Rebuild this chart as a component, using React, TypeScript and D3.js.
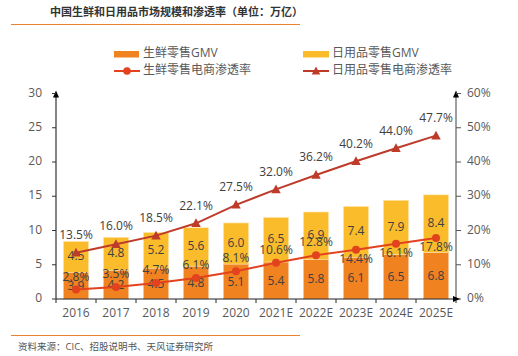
import React from "react";
import * as d3 from "d3";

const categories = ["2016", "2017", "2018", "2019", "2020", "2021E", "2022E", "2023E", "2024E", "2025E"];
const freshGMV = [3.9, 4.2, 4.5, 4.8, 5.1, 5.4, 5.8, 6.1, 6.5, 6.8];
const dailyGMV = [4.5, 4.8, 5.2, 5.6, 6.0, 6.5, 6.9, 7.4, 7.9, 8.4];
const freshRate = [2.8, 3.5, 4.7, 6.1, 8.1, 10.6, 12.8, 14.4, 16.1, 17.8];
const dailyRate = [13.5, 16.0, 18.5, 22.1, 27.5, 32.0, 36.2, 40.2, 44.0, 47.7];
const leftTicks = [0, 5, 10, 15, 20, 25, 30];
const rightTicks = [0, 10, 20, 30, 40, 50, 60];

const title = "中国生鲜和日用品市场规模和渗透率（单位：万亿）";
const source = "资料来源：CIC、招股说明书、天风证券研究所";
const legendFreshBar = "生鲜零售GMV";
const legendDailyBar = "日用品零售GMV";
const legendFreshLine = "生鲜零售电商渗透率";
const legendDailyLine = "日用品零售电商渗透率";

const FONT = "'Open Sans', 'Noto Sans CJK SC', sans-serif";
const C_FRESH = "#F0821F";
const C_DAILY = "#FBBC2C";
const C_FRESH_LINE = "#E2431E";
const C_DAILY_LINE = "#BE3B2A";
const C_TICK = "#595959";
const C_LABEL = "#404040";

export default function App() {
  const left = 56, right = 456, top = 93.5, bottom = 299;
  const x = d3.scaleBand<string>().domain(categories).range([left, right]).paddingInner(0.375).paddingOuter(0.1875);
  const yL = d3.scaleLinear().domain([0, 30]).range([bottom, top]);
  const yR = d3.scaleLinear().domain([0, 60]).range([bottom, top]);
  const cx = (c: string) => (x(c) as number) + x.bandwidth() / 2;

  const freshLine = d3.line<number>().x((_, i) => cx(categories[i])).y((d) => yR(d));
  const dailyLine = d3.line<number>().x((_, i) => cx(categories[i])).y((d) => yR(d));

  const tri = (px: number, py: number, s = 5) =>
    `M${px},${py - s} L${px + s * 0.95},${py + s * 0.75} L${px - s * 0.95},${py + s * 0.75} Z`;

  const step = (right - left) / categories.length;

  return (
    <svg width={518} height={356} style={{ position: "absolute", left: 0, top: 0, background: "#fff" }} fontFamily={FONT}>
      {/* title */}
      <text x={50} y={16} fontSize={11} fontWeight="bold" fill="#333">{title}</text>
      <line x1={11} x2={300} y1={24.5} y2={24.5} stroke="#E8822E" strokeWidth={1} />

      {/* legend */}
      <g fontSize={12} fill={C_TICK}>
        <rect x={114} y={51} width={25} height={6.5} fill={C_FRESH} />
        <text x={143} y={54} dominantBaseline="middle">{legendFreshBar}</text>
        <rect x={303} y={51} width={26} height={6.5} fill={C_DAILY} />
        <text x={332} y={54} dominantBaseline="middle">{legendDailyBar}</text>
        <line x1={114} x2={140} y1={71} y2={71} stroke={C_FRESH_LINE} strokeWidth={2} />
        <circle cx={127} cy={71} r={3.8} fill={C_FRESH_LINE} />
        <text x={143} y={71} dominantBaseline="middle">{legendFreshLine}</text>
        <line x1={303} x2={329} y1={71} y2={71} stroke={C_DAILY_LINE} strokeWidth={2} />
        <path d={tri(316, 71, 4.5)} fill={C_DAILY_LINE} />
        <text x={332} y={71} dominantBaseline="middle">{legendDailyLine}</text>
      </g>

      {/* bars */}
      {categories.map((c, i) => (
        <g key={c}>
          <rect x={x(c)} y={yL(freshGMV[i])} width={x.bandwidth()} height={bottom - yL(freshGMV[i])} fill={C_FRESH} stroke="#F7C49A" strokeWidth={0.6} />
          <rect x={x(c)} y={yL(freshGMV[i] + dailyGMV[i])} width={x.bandwidth()} height={yL(freshGMV[i]) - yL(freshGMV[i] + dailyGMV[i])} fill={C_DAILY} stroke="#FDE3A6" strokeWidth={0.6} />
        </g>
      ))}
      {/* bar labels */}
      <g fontSize={12} fill={C_LABEL} textAnchor="middle">
        {categories.map((c, i) => (
          <g key={c}>
            <text x={cx(c)} y={(yL(0) + yL(freshGMV[i])) / 2 + 1} dominantBaseline="middle">{freshGMV[i].toFixed(1)}</text>
            <text x={cx(c)} y={(yL(freshGMV[i]) + yL(freshGMV[i] + dailyGMV[i])) / 2} dominantBaseline="middle">{dailyGMV[i].toFixed(1)}</text>
          </g>
        ))}
      </g>

      {/* axes */}
      <g>
        {/* left axis */}
        <line x1={left} x2={left} y1={bottom} y2={top - 1} stroke="#333" strokeWidth={1.2} />
        <path d={`M${left},${top - 3} L${left - 3},${top + 4} L${left + 3},${top + 4} Z`} fill="#000" />
        {leftTicks.map((t) => (
          <g key={t}>
            <line x1={left - 4} x2={left} y1={yL(t)} y2={yL(t)} stroke="#333" />
            <text x={42} y={yL(t)} fontSize={12} fill={C_TICK} textAnchor="end" dominantBaseline="middle">{t}</text>
          </g>
        ))}
        {/* right axis */}
        <line x1={right} x2={right} y1={bottom} y2={top - 1} stroke="#7F7F7F" strokeWidth={1.5} />
        <path d={`M${right},${top - 3} L${right - 3},${top + 4} L${right + 3},${top + 4} Z`} fill="#000" />
        {rightTicks.map((t) => (
          <g key={t}>
            <line x1={right} x2={right + 5} y1={yR(t)} y2={yR(t)} stroke="#555" />
            <text x={467} y={yR(t)} fontSize={12} fill={C_TICK} dominantBaseline="middle">{t}%</text>
          </g>
        ))}
        {/* bottom axis */}
        <line x1={left} x2={right + 1} y1={bottom} y2={bottom} stroke="#222" strokeWidth={1.2} />
        <path d={`M${right + 4},${bottom} L${right - 3},${bottom - 3} L${right - 3},${bottom + 3} Z`} fill="#000" />
        {d3.range(categories.length + 1).map((k) => (
          <line key={k} x1={left + k * step} x2={left + k * step} y1={bottom} y2={bottom + 4} stroke="#222" />
        ))}
        {categories.map((c) => (
          <text key={c} x={cx(c)} y={314} fontSize={12} fill={C_TICK} textAnchor="middle" dominantBaseline="middle">{c}</text>
        ))}
      </g>

      {/* lines */}
      <path d={freshLine(freshRate) as string} fill="none" stroke={C_FRESH_LINE} strokeWidth={2} />
      <path d={dailyLine(dailyRate) as string} fill="none" stroke={C_DAILY_LINE} strokeWidth={2} />
      {categories.map((c, i) => (
        <g key={c}>
          <circle cx={cx(c)} cy={yR(freshRate[i])} r={4} fill={C_FRESH_LINE} />
          <path d={tri(cx(c), yR(dailyRate[i]), 5)} fill={C_DAILY_LINE} />
        </g>
      ))}
      {/* line labels */}
      <g fontSize={12} fill={C_LABEL} textAnchor="middle">
        {categories.map((c, i) => (
          <g key={c}>
            <text x={cx(c)} y={yR(dailyRate[i]) - 17} dominantBaseline="middle">{dailyRate[i].toFixed(1)}%</text>
            <text x={cx(c)} y={yR(freshRate[i]) + (i >= 7 ? 10 : -12)} dominantBaseline="middle">{freshRate[i].toFixed(1)}%</text>
          </g>
        ))}
      </g>

      {/* source */}
      <line x1={11} x2={300} y1={335.5} y2={335.5} stroke="#E8822E" strokeWidth={1} />
      <text x={18} y={347} fontSize={9.5} fill="#555" dominantBaseline="middle">{source}</text>
    </svg>
  );
}
